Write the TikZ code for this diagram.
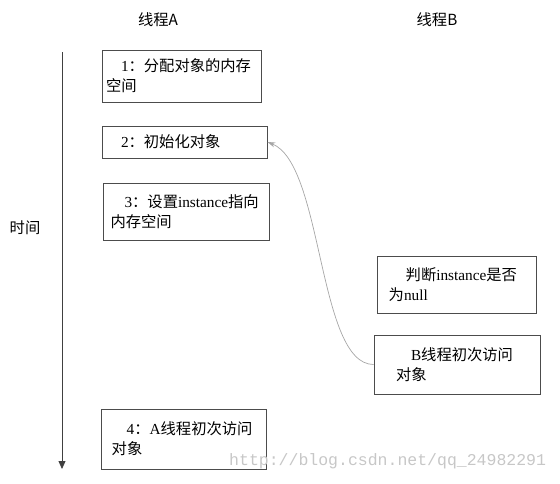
\documentclass[tikz,border=0pt]{standalone}
\usepackage{fontspec}
\setmainfont{Liberation Serif}
\newfontfamily\cjk{Noto Sans CJK SC}
\newfontfamily\wmfont{Liberation Mono}
\usetikzlibrary{arrows.meta}
\tikzset{
  stepbox/.style={draw=black!70, line width=0.8pt, align=left, inner ysep=0pt,
    font=\fontsize{15.3}{19.8}\selectfont},
  title/.style={font=\fontsize{15.3}{18}\selectfont\cjk},
  timeline/.style={draw=black!75, line width=0.8pt, -{Triangle[length=8pt,width=7pt]}},
  access/.style={draw=black!35, line width=0.7pt, -{Stealth[length=8pt,width=5pt]}},
  watermark/.style={text=black!22, font=\fontsize{16.5}{18}\wmfont, anchor=west, inner sep=0pt}
}
\begin{document}
\begin{tikzpicture}[x=1pt,y=-1pt]
\useasboundingbox (0,0) rectangle (560,483);
% titles
\node[title] (ta) at (158,20) {线程A};
\node[title] (tb) at (437,20) {线程B};
% time axis
\coordinate (t0) at (62,52);
\coordinate (t1) at (62,469);
\draw[timeline] (t0) -- (t1);
\node[title] (time) at (25,228) {时间};
% thread A boxes
\node[stepbox, inner xsep=4pt, text width=151pt, minimum height=52pt] (n1) at (181.5,76)
  {\hspace*{15pt}1{\cjk ：分配对象的内存}\\{\cjk 空间}};
\node[stepbox, inner xsep=4pt, text width=157pt, minimum height=32pt] (n2) at (184.5,142)
  {\hspace*{15pt}2{\cjk ：初始化对象}};
\node[stepbox, inner xsep=7pt, text width=151.5pt, minimum height=57pt] (n3) at (186.25,211.5)
  {\hspace*{14pt}3{\cjk ：设置}instance{\cjk 指向}\\{\cjk 内存空间}};
\node[stepbox, inner xsep=10pt, text width=145pt, minimum height=60pt] (n4) at (184.2,439)
  {\hspace*{15pt}4{\cjk ：}A{\cjk 线程初次访问}\\{\cjk 对象}};
% thread B boxes
\node[stepbox, inner xsep=11pt, text width=137pt, minimum height=56.6pt] (b1) at (457.2,285)
  {\hspace*{17pt}{\cjk 判断}instance{\cjk 是否}\\{\cjk 为}null};
\node[stepbox, inner xsep=22pt, text width=122pt, minimum height=59pt] (b2) at (457,364.5)
  {\hspace*{15pt}B{\cjk 线程初次访问}\\{\cjk 对象}};
% access arrow
\draw[access] (b2.west) .. controls +(-56,0) and +(56,22) .. (n2.east);
% watermark
\node[watermark] (wm) at (229,461) {http://blog.csdn.net/qq\_24982291};
\end{tikzpicture}
\end{document}
